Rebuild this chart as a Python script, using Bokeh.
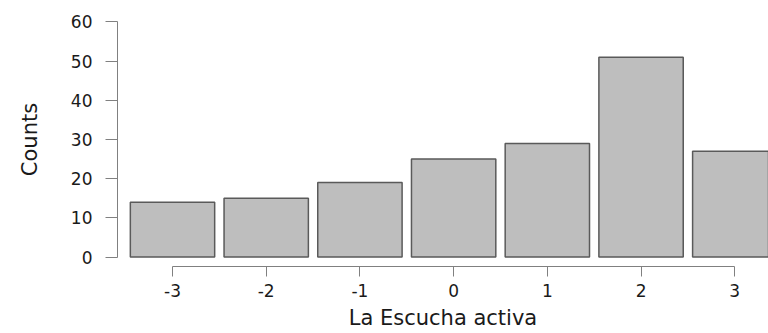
from bokeh.plotting import figure
from bokeh.models import FixedTicker, Range1d
from bokeh.embed import file_html
from bokeh.resources import INLINE

# Data
categories = [-3, -2, -1, 0, 1, 2, 3]
counts = [14, 15, 19, 25, 29, 51, 27]
x_tick_labels = ["-3", "-2", "-1", "0", "1", "2", "3"]
y_ticks = [0, 10, 20, 30, 40, 50, 60]
x_title = "La Escucha activa"
y_title = "Counts"

FONT = "DejaVu Sans"
AXIS_COLOR = "#808080"
TEXT_COLOR = "#1a1a1a"

p = figure(width=768, height=333, output_backend="svg", toolbar_location=None,
           x_range=Range1d(-3.587, 3.36), y_range=Range1d(-2.4, 62.4),
           min_border_left=117, min_border_right=0, min_border_top=12,
           min_border_bottom=67)

p.vbar(x=categories, top=counts, bottom=0, width=0.9,
       fill_color="#bebebe", line_color="#5a5a5a", line_width=1.5)

p.xgrid.visible = False
p.ygrid.visible = False
p.outline_line_color = None
p.background_fill_color = "white"
p.border_fill_color = "white"

xa = p.xaxis[0]
xa.ticker = FixedTicker(ticks=categories)
xa.major_label_overrides = {c: s for c, s in zip(categories, x_tick_labels)}
xa.bounds = (categories[0], categories[-1])
xa.axis_label = x_title
xa.axis_label_text_font = FONT
xa.axis_label_text_font_size = "21px"
xa.axis_label_text_font_style = "normal"
xa.axis_label_text_color = TEXT_COLOR
xa.axis_label_standoff = 6
xa.major_label_text_font = FONT
xa.major_label_text_font_size = "17px"
xa.major_label_text_color = TEXT_COLOR
xa.major_label_standoff = 7
xa.major_tick_out = 10
xa.major_tick_in = 0
xa.minor_tick_out = 0
xa.minor_tick_in = 0
xa.axis_line_color = AXIS_COLOR
xa.major_tick_line_color = AXIS_COLOR

ya = p.yaxis[0]
ya.ticker = FixedTicker(ticks=y_ticks)
ya.bounds = (y_ticks[0], y_ticks[-1])
ya.axis_label = y_title
ya.axis_label_text_font = FONT
ya.axis_label_text_font_size = "21px"
ya.axis_label_text_font_style = "normal"
ya.axis_label_text_color = TEXT_COLOR
ya.axis_label_standoff = 26
ya.major_label_text_font = FONT
ya.major_label_text_font_size = "17px"
ya.major_label_text_color = TEXT_COLOR
ya.major_label_standoff = 13
ya.major_label_orientation = "horizontal"
ya.major_tick_out = 12
ya.major_tick_in = 0
ya.minor_tick_out = 0
ya.minor_tick_in = 0
ya.axis_line_color = AXIS_COLOR
ya.major_tick_line_color = AXIS_COLOR

open("out.html", "w").write(file_html(p, INLINE))
